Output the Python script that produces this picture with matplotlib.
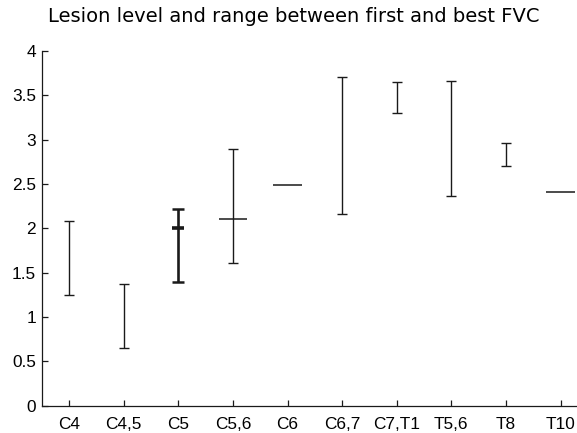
import matplotlib
matplotlib.use("Agg")
import matplotlib.pyplot as plt
import numpy as np

plt.rcParams['font.family'] = ['Liberation Sans', 'DejaVu Sans']

categories = ['C4', 'C4,5', 'C5', 'C5,6', 'C6', 'C6,7', 'C7,T1', 'T5,6', 'T8', 'T10']
low_fvc = [1.25, 0.65, 1.39, 1.61, 2.49, 2.16, 3.30, 2.36, 2.70, 2.41]
high_fvc = [2.08, 1.37, 2.22, 2.90, 2.49, 3.71, 3.65, 3.66, 2.96, 2.41]
mark_cats = ['C5', 'C5,6', 'C6', 'T10']
mark_vals = [2.00, 2.10, 2.49, 2.41]
y_ticks = [0, 0.5, 1, 1.5, 2, 2.5, 3, 3.5, 4]
y_ticklabels = ['0', '0.5', '1', '1.5', '2', '2.5', '3', '3.5', '4']
title = 'Lesion level and range between first and best FVC'

W, H = 577, 433
fig = plt.figure(figsize=(W / 100, H / 100), dpi=100)
ax = fig.add_axes([41.7 / W, 27.3 / H, (W - 41.7) / W, (405.7 - 51) / H])

x = np.arange(1, len(categories) + 1)
low = np.array(low_fvc)
high = np.array(high_fvc)
mid = (low + high) / 2
ranged = high > low
thick = np.array([c == 'C5' for c in categories])

col = '#1a1a1a'
sel = ranged & ~thick
ax.errorbar(x[sel], mid[sel], yerr=[mid[sel] - low[sel], high[sel] - mid[sel]],
            fmt='none', ecolor=col, elinewidth=1.0, capsize=3.5, capthick=1.0)
sel = ranged & thick
ax.errorbar(x[sel], mid[sel], yerr=[mid[sel] - low[sel], high[sel] - mid[sel]],
            fmt='none', ecolor=col, elinewidth=1.9, capsize=4.5, capthick=1.8)

for c, v in zip(mark_cats, mark_vals):
    xi = categories.index(c) + 1
    if c == 'C5':
        ax.hlines(v, xi - 0.11, xi + 0.11, color=col, linewidth=2.6)
    else:
        ax.hlines(v, xi - 0.26, xi + 0.26, color=col, linewidth=1.1)

ax.set_xlim(0.5, 10.3)
ax.set_ylim(0, 4)
ax.set_xticks(x)
ax.set_xticklabels(categories)
ax.set_yticks(y_ticks)
ax.set_yticklabels(y_ticklabels)
ax.tick_params(axis='both', direction='in', length=4, width=0.9, colors=col,
               labelsize=12.4, labelcolor='black')
ax.tick_params(axis='y', pad=4)
ax.tick_params(axis='x', pad=8)
for s in ['top', 'right']:
    ax.spines[s].set_visible(False)
for s in ['left', 'bottom']:
    ax.spines[s].set_linewidth(0.9)
    ax.spines[s].set_color(col)

fig.text(294 / W, 1 - 21.7 / H, title, ha='center', va='baseline', fontsize=14,
         family='DejaVu Sans')

fig.savefig('out.png', dpi=100)
